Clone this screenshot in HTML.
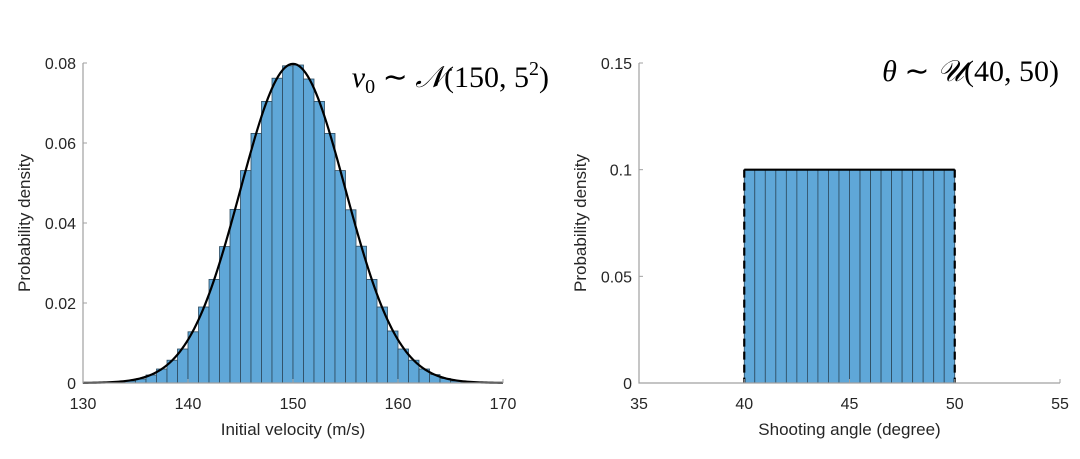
<!DOCTYPE html>
<html><head><meta charset="utf-8"><style>
body{margin:0;background:#fff;width:1080px;height:454px;overflow:hidden}
svg text{font-family:"Liberation Sans",sans-serif;fill:#262626}
.m{font-family:"Liberation Serif",serif;fill:#000}
</style></head><body>
<svg id="c" width="1080" height="454" xmlns="http://www.w3.org/2000/svg"></svg>
<script>
// Left histogram data (bins of width 1, starting 130)
const vBinStarts=[130,131,132,133,134,135,136,137,138,139,140,141,142,143,144,145,146,147,148,149,150,151,152,153,154,155,156,157,158,159,160,161,162,163,164,165,166,167,168,169];
const vDensity=[0,0.0001,0.0002,0.00025,0.0005,0.001,0.002,0.0035,0.0057,0.0085,0.0128,0.019,0.0259,0.0341,0.0434,0.0531,0.0624,0.0704,0.0762,0.0793,0.0795,0.0760,0.0704,0.0624,0.0531,0.0433,0.0342,0.0259,0.019,0.013,0.0085,0.0057,0.0035,0.0021,0.0011,0.0005,0.00025,0.0001,0,0];
const vMu=150, vSigma=5;
const vXTicks=[130,140,150,160,170];
const vYTicks=[0,0.02,0.04,0.06,0.08];
// Right histogram data (bins width 0.5 from 40)
const tBinStarts=[40,40.5,41,41.5,42,42.5,43,43.5,44,44.5,45,45.5,46,46.5,47,47.5,48,48.5,49,49.5];
const tDensity=[0.1,0.1,0.1,0.1,0.1,0.1,0.1,0.1,0.1,0.1,0.1,0.1,0.1,0.1,0.1,0.1,0.1,0.1,0.1,0.1];
const tLow=40, tHigh=50;
const tXTicks=[35,40,45,50,55];
const tYTicks=[0,0.05,0.1,0.15];
const tYLabels=["0","0.05","0.1","0.15"];

const svg=document.getElementById('c');
const NS='http://www.w3.org/2000/svg';
function el(t,a,p){const e=document.createElementNS(NS,t);for(const k in a)e.setAttribute(k,a[k]);(p||svg).appendChild(e);return e;}

function axes(x0,x1,y0,y1,xmin,xmax,ymin,ymax,pre){
  const g=el('g',{});
  
  
  const sx=v=>x0+(v-xmin)/(xmax-xmin)*(x1-x0);
  const sy=v=>y0-(v-ymin)/(ymax-ymin)*(y0-y1);
  return {g,sx,sy};
}
function drawAxes(A,x0,x1,y0,y1,xt,yt,ylab,xlabel,pre,ylabX){
  const g=A.g;
  const ax=el('path',{d:`M${x0},${y1}V${y0}H${x1}`,stroke:'#a0a0a0','stroke-width':1.2,fill:'none'},g);
  
  
  xt.forEach(v=>{const x=A.sx(v);
    el('line',{x1:x,x2:x,y1:y0,y2:y0-4,stroke:'#a0a0a0'},g);
    const t=el('text',{x:x,y:409,'text-anchor':'middle','font-size':16},g);t.textContent=v;
    
    });
  yt.forEach((v,i)=>{const y=A.sy(v);
    el('line',{x1:x0,x2:x0+4,y1:y,y2:y,stroke:'#a0a0a0'},g);
    const t=el('text',{x:x0-7,y:y+6,'text-anchor':'end','font-size':16},g);t.textContent=ylab?ylab[i]:v;
    
    });
  const xl=el('text',{x:(x0+x1)/2,y:435,'text-anchor':'middle','font-size':17},g);xl.textContent=xlabel;
  
  
  const yl=el('text',{x:0,y:0,'text-anchor':'middle','font-size':17,transform:`translate(${ylabX},${(y0+y1)/2}) rotate(-90)`},g);yl.textContent='Probability density';
  
  
}
// Left
const L=axes(83,503,383,63,130,170,0,0.08,'velocity');
vBinStarts.forEach((b,i)=>{
  const x=L.sx(b),w=L.sx(b+1)-x,y=L.sy(vDensity[i]);
  const r=el('rect',{x:x,y:y,width:w,height:383-y,fill:'#5fa7d8',stroke:'#2d4a5e','stroke-width':0.8},L.g);
  
  
});
let d='';
for(let v=130;v<=170.001;v+=0.2){const p=Math.exp(-0.5*((v-vMu)/vSigma)**2)/(vSigma*Math.sqrt(2*Math.PI));d+=(d?'L':'M')+L.sx(v).toFixed(2)+','+L.sy(p).toFixed(2);}
const curve=el('path',{d:d,stroke:'#000','stroke-width':2.2,fill:'none'},L.g);


drawAxes(L,83,503,383,63,vXTicks,vYTicks,null,'Initial velocity (m/s)','velocity',30);
const t1=el('text',{x:549,y:87,'text-anchor':'end','font-size':30,class:'m'});
t1.innerHTML='<tspan font-style="italic">v</tspan><tspan font-size="20" dy="6">0</tspan><tspan dy="-6"> ∼ </tspan><tspan font-style="italic">𝒩</tspan>(150, 5<tspan font-size="20" dy="-12">2</tspan><tspan dy="12">)</tspan>';


// Right
const R=axes(639,1060,383,63,35,55,0,0.15,'angle');
tBinStarts.forEach((b,i)=>{
  const x=R.sx(b),w=R.sx(b+0.5)-x,y=R.sy(tDensity[i]);
  const r=el('rect',{x:x,y:y,width:w,height:383-y,fill:'#5fa7d8',stroke:'#2d4a5e','stroke-width':0.8},R.g);
  
  
});
const pu=1/(tHigh-tLow);
const uniformTop=el('line',{x1:R.sx(tLow),x2:R.sx(tHigh),y1:R.sy(pu),y2:R.sy(pu),stroke:'#000','stroke-width':2.2},R.g);


[tLow,tHigh].forEach(v=>{const l=el('line',{x1:R.sx(v),x2:R.sx(v),y1:R.sy(pu),y2:383,stroke:'#000','stroke-width':2.2,'stroke-dasharray':'8,5'},R.g);
  
  });
drawAxes(R,639,1060,383,63,tXTicks,tYTicks,tYLabels,'Shooting angle (degree)','angle',586);
const t2=el('text',{x:1059,y:81,'text-anchor':'end','font-size':30,class:'m'});
t2.innerHTML='<tspan font-style="italic">θ</tspan> ∼ <tspan font-style="italic">𝒰</tspan>(40, 50)';


</script>
</body></html>
